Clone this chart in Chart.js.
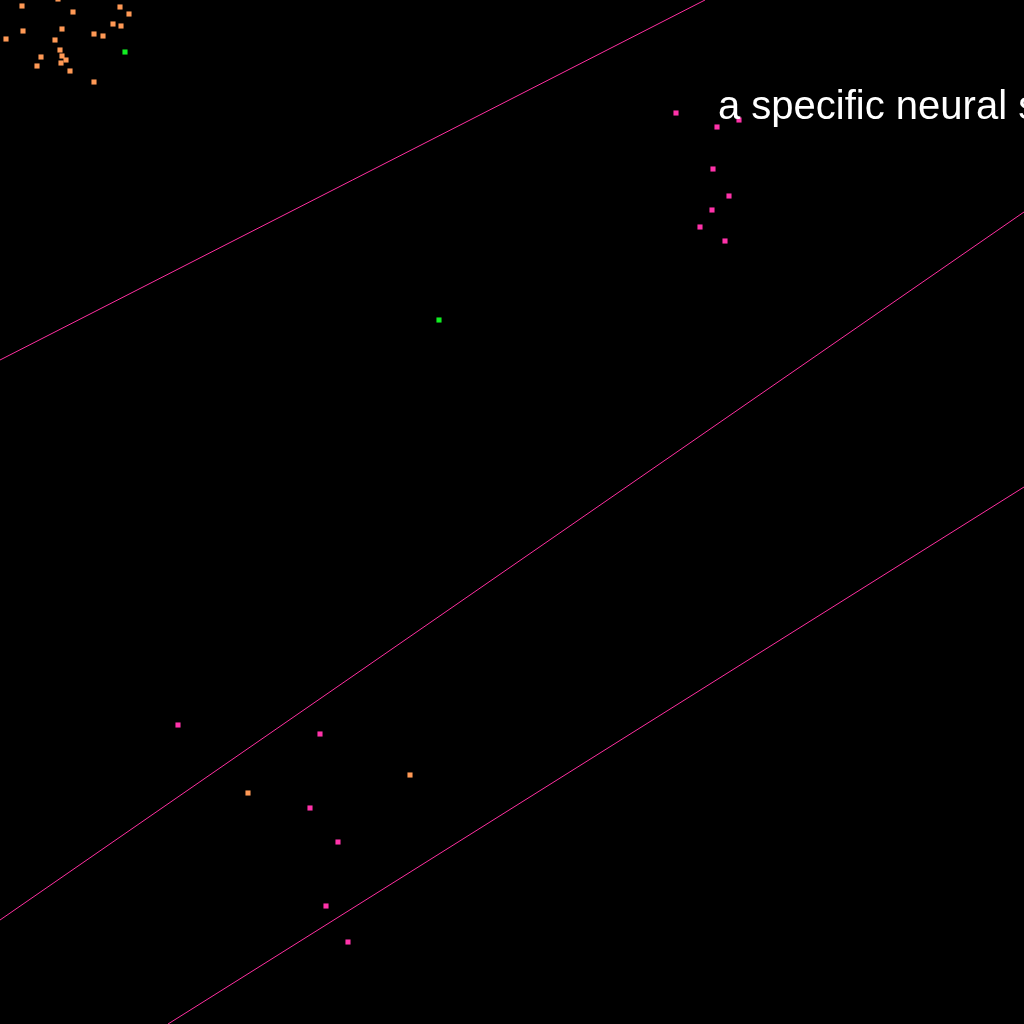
<!DOCTYPE html>
<html>
<head>
<meta charset="utf-8">
<script src="https://cdn.jsdelivr.net/npm/chart.js@4/dist/chart.umd.min.js"></script>
<style>
html,body{margin:0;padding:0;background:#000;overflow:hidden;}
#wrap{width:1024px;height:1024px;}
</style>
</head>
<body>
<div id="wrap"><canvas id="c" width="1024" height="1024"></canvas></div>
<script>
// Point clusters (x, y in plot units; y grows downward)
const orangeX = [22,58,73,120,129,113,121,62,23,94,103,6,55,60,62,41,66,61,37,70,94,410,248];
const orangeY = [6,-1,12,7,14,24,26,29,31,34,36,39,40,50,56,57,60,63,66,71,82,775,793];
const pinkX = [676,717,739,713,729,712,700,725,178,320,310,338,326,348];
const pinkY = [113,127,120,169,196,210,227,241,725,734,808,842,906,942];
const greenX = [125,439];
const greenY = [52,320];
// Separating lines: [x0, y0, x1, y1]
const lineA = [0,360,705,0];
const lineB = [0,920,1024,212];
const lineC = [168,1024,1024,487];
const labelText = "a specific neural s";
const labelPos = [718,119];

const pts = (xs, ys) => xs.map((x, i) => ({x: x, y: ys[i]}));
const seg = (l) => [{x: l[0], y: l[1]}, {x: l[2], y: l[3]}];

const ORANGE = '#ff9955';
const PINK = '#ff33aa';
const GREEN = '#11ee22';
const LINEPINK = '#ff2fa0';

const scatterDs = (data, color) => ({
  type: 'scatter', data: data, backgroundColor: color, borderColor: color,
  borderWidth: 0, pointStyle: 'rect', pointRadius: 3.6, pointHoverRadius: 3.6
});
const lineDs = (data) => ({
  type: 'line', data: data, borderColor: LINEPINK, borderWidth: 1,
  pointRadius: 0, fill: false, tension: 0
});

const labelPlugin = {
  id: 'label',
  afterDatasetsDraw(chart) {
    const ctx = chart.ctx;
    const xs = chart.scales.x, ys = chart.scales.y;
    ctx.save();
    ctx.fillStyle = '#ffffff';
    ctx.font = '40px "Liberation Sans", Arial, sans-serif';
    ctx.textBaseline = 'alphabetic';
    ctx.textAlign = 'left';
    ctx.fillText(labelText, xs.getPixelForValue(labelPos[0]), ys.getPixelForValue(labelPos[1]));
    ctx.restore();
  }
};

new Chart(document.getElementById('c'), {
  data: {
    datasets: [
      lineDs(seg(lineA)), lineDs(seg(lineB)), lineDs(seg(lineC)),
      scatterDs(pts(orangeX, orangeY), ORANGE),
      scatterDs(pts(pinkX, pinkY), PINK),
      scatterDs(pts(greenX, greenY), GREEN)
    ]
  },
  options: {
    responsive: false,
    animation: false,
    layout: {padding: 0, autoPadding: false},
    clip: false,
    plugins: {legend: {display: false}, tooltip: {enabled: false}},
    scales: {
      x: {type: 'linear', min: 0, max: 1024, display: false},
      y: {type: 'linear', min: 0, max: 1024, reverse: true, display: false}
    }
  },
  plugins: [labelPlugin]
});
</script>
</body>
</html>
